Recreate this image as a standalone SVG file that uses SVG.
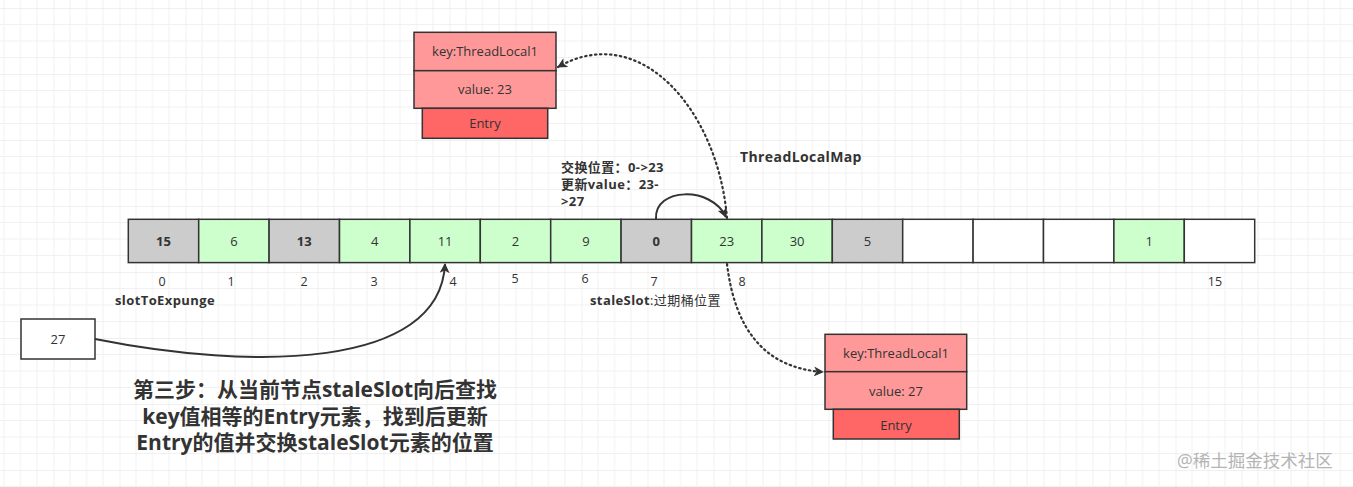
<svg xmlns="http://www.w3.org/2000/svg" width="1353" height="487" viewBox="0 0 1353 487">
<defs>
<pattern id="grid" patternUnits="userSpaceOnUse" x="53.5" y="8" width="66" height="66">
<path d="M16.5 0V66M33 0V66M49.5 0V66M0 16.5H66M0 33H66M0 49.5H66" stroke="#f1f1f1" stroke-width="1" fill="none"/>
<path d="M0 0V66M0 0H66" stroke="#e2e2e2" stroke-width="1" fill="none"/>
</pattern>
<marker id="arrB" viewBox="0 0 10 10" refX="9" refY="5" markerWidth="10" markerHeight="10" markerUnits="userSpaceOnUse" orient="auto">
<path d="M0 0L10 5L0 10L2.5 5Z" fill="#333"/>
</marker>
</defs>
<style>
text{font-family:"Open Sans","Noto Sans CJK SC",sans-serif;fill:#333;}
.cell{stroke:#333;stroke-width:1.5;}
.g{fill:#cccccc}.gr{fill:#ccffcc}.w{fill:#ffffff}
.cv{font-size:13px;text-anchor:middle;}
.b{font-weight:bold}
.idx{font-size:12.5px;text-anchor:middle;}
.lbl{font-size:13px;font-weight:bold;letter-spacing:0.4px;}
.kv{fill:#ff9999;stroke:#333;stroke-width:1.5;}
.en{fill:#ff6666;stroke:#333;stroke-width:1.5;}
.et{font-size:13px;text-anchor:middle;}
.conn{fill:none;stroke:#333;stroke-width:2;}
.dot{fill:none;stroke:#333;stroke-width:2.2;stroke-dasharray:1.5 3.5;stroke-linecap:round;}
.big{font-size:21px;font-weight:bold;text-anchor:middle;}
</style>
<rect width="1353" height="487" fill="#ffffff"/>
<rect width="1353" height="487" fill="url(#grid)"/>

<g id="array">
<rect class="cell g" x="128.3" y="219.3" width="70.4" height="43.3"/>
<rect class="cell gr" x="198.7" y="219.3" width="70.4" height="43.3"/>
<rect class="cell g" x="269.1" y="219.3" width="70.4" height="43.3"/>
<rect class="cell gr" x="339.5" y="219.3" width="70.4" height="43.3"/>
<rect class="cell gr" x="409.9" y="219.3" width="70.4" height="43.3"/>
<rect class="cell gr" x="480.3" y="219.3" width="70.4" height="43.3"/>
<rect class="cell gr" x="550.7" y="219.3" width="70.4" height="43.3"/>
<rect class="cell g" x="621.1" y="219.3" width="70.4" height="43.3"/>
<rect class="cell gr" x="691.5" y="219.3" width="70.4" height="43.3"/>
<rect class="cell gr" x="761.9" y="219.3" width="70.4" height="43.3"/>
<rect class="cell g" x="832.3" y="219.3" width="70.4" height="43.3"/>
<rect class="cell w" x="902.7" y="219.3" width="70.4" height="43.3"/>
<rect class="cell w" x="973.1" y="219.3" width="70.4" height="43.3"/>
<rect class="cell w" x="1043.5" y="219.3" width="70.4" height="43.3"/>
<rect class="cell gr" x="1113.9" y="219.3" width="70.4" height="43.3"/>
<rect class="cell w" x="1184.3" y="219.3" width="70.4" height="43.3"/>
<text class="cv b" x="163.5" y="245.5">15</text>
<text class="cv" x="233.9" y="245.5">6</text>
<text class="cv b" x="304.3" y="245.5">13</text>
<text class="cv" x="374.7" y="245.5">4</text>
<text class="cv" x="445.1" y="245.5">11</text>
<text class="cv" x="515.5" y="245.5">2</text>
<text class="cv" x="585.9" y="245.5">9</text>
<text class="cv b" x="656.3" y="245.5">0</text>
<text class="cv" x="726.7" y="245.5">23</text>
<text class="cv" x="797.1" y="245.5">30</text>
<text class="cv" x="867.5" y="245.5">5</text>
<text class="cv" x="1149.1" y="245.5">1</text>
</g>

<g id="indices">
<text class="idx" x="162" y="286">0</text>
<text class="idx" x="231" y="286">1</text>
<text class="idx" x="304" y="286">2</text>
<text class="idx" x="374" y="286">3</text>
<text class="idx" x="453" y="286">4</text>
<text class="idx" x="515" y="283">5</text>
<text class="idx" x="585" y="283">6</text>
<text class="idx" x="654" y="286">7</text>
<text class="idx" x="742" y="286">8</text>
<text class="idx" x="1215" y="286">15</text>
</g>

<g id="labels">
<text class="lbl" x="115" y="305">slotToExpunge</text>
<text class="lbl" x="590" y="305">staleSlot<tspan font-weight="normal">:过期桶位置</tspan></text>
<text class="lbl" x="561" y="172">交换位置：0-&gt;23</text>
<text class="lbl" x="561" y="189">更新value：23-</text>
<text class="lbl" x="561" y="206">&gt;27</text>
<text class="lbl" x="740" y="162" style="font-size:14px">ThreadLocalMap</text>
</g>

<g id="entry-top">
<rect class="kv" x="414" y="32.3" width="142" height="38.4"/>
<rect class="kv" x="414" y="70.7" width="142" height="37.6"/>
<rect class="en" x="422.3" y="108.3" width="125.4" height="30"/>
<text class="et" x="485" y="56">key:ThreadLocal1</text>
<text class="et" x="485" y="94">value: 23</text>
<text class="et" x="485" y="128">Entry</text>
</g>

<g id="entry-bottom">
<rect class="kv" x="825" y="334.3" width="141.7" height="37.4"/>
<rect class="kv" x="825" y="371.7" width="141.7" height="37.6"/>
<rect class="en" x="833.3" y="409.3" width="126" height="29.7"/>
<text class="et" x="896" y="358">key:ThreadLocal1</text>
<text class="et" x="896" y="396">value: 27</text>
<text class="et" x="896" y="430">Entry</text>
</g>

<g id="node-27">
<rect x="21" y="319" width="74" height="40" fill="#ffffff" stroke="#333" stroke-width="1.5"/>
<text class="et" x="58" y="344">27</text>
</g>

<g id="connectors">
<path class="conn" d="M95 339C250 370 440 370 445 264" marker-end="url(#arrB)"/>
<path class="conn" d="M656 219C654 187 712 186 726 217" marker-end="url(#arrB)"/>
<path class="dot" d="M727 218C718 110 640 20 558 67" marker-end="url(#arrB)"/>
<path class="dot" d="M727 264C735 330 765 368 823 372" marker-end="url(#arrB)"/>
</g>

<g id="caption">
<text class="big" x="315" y="397">第三步：从当前节点staleSlot向后查找</text>
<text class="big" x="315" y="424">key值相等的Entry元素，找到后更新</text>
<text class="big" x="315" y="450">Entry的值并交换staleSlot元素的位置</text>
</g>

<text x="1177" y="467" font-size="17.5" style="fill:#b4b4b4">@稀土掘金技术社区</text>
</svg>
